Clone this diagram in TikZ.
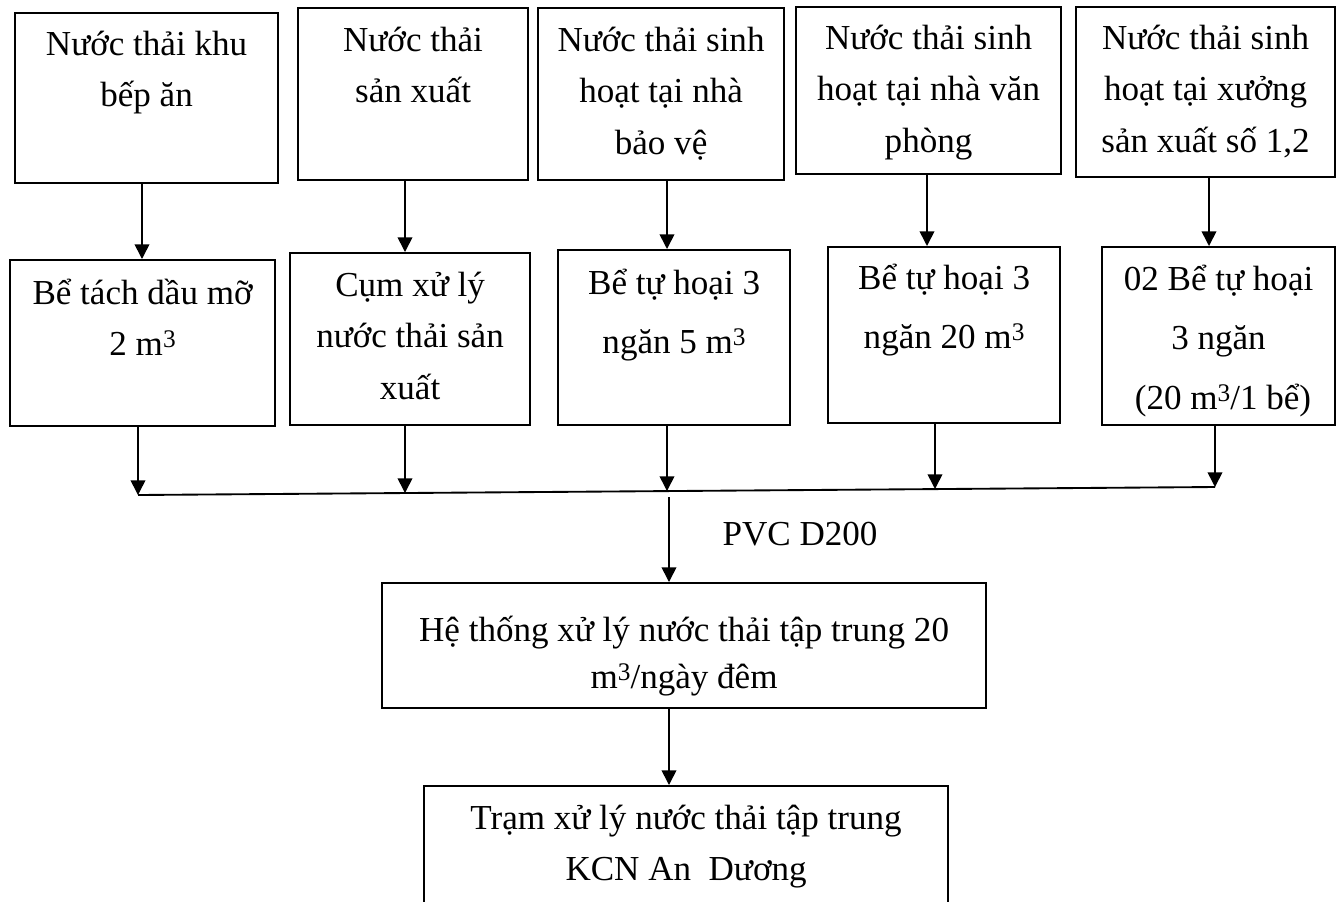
\documentclass[tikz,border=0pt]{standalone}
\usepackage{fontspec}
\setmainfont{Liberation Serif}
\usetikzlibrary{arrows.meta}

% cubic-metre exponent, set like a word-processor superscript
\newcommand\cub{\raisebox{0.22em}{\fontsize{19pt}{19pt}\selectfont 3}}

\begin{document}
\begin{tikzpicture}[x=0.75pt,y=-0.75pt,
  box/.style={draw, line width=1.6pt, inner sep=0pt, align=flush center,
    anchor=north west, font=\fontsize{26.3pt}{38.6pt}\selectfont},
  widebox/.style={box, font=\fontsize{26.3pt}{44.6pt}\selectfont},
  tightbox/.style={box, font=\fontsize{26.3pt}{35.3pt}\selectfont},
  arr/.style={line width=1.2pt, -{Triangle[length=11pt,width=11pt]}},
  pipe/.style={line width=1.4pt}]
\useasboundingbox (0,0) rectangle (1336,901);
\clip (0,0) rectangle (1336,901);

% sources
\node[box, text width=197.25pt, text height=31.5pt, text depth=96pt] (t1) at (14,12)
  {Nước thải khu\\bếp ăn};
\node[box, text width=172.5pt, text height=32.25pt, text depth=96.75pt] (t2) at (297,7)
  {Nước thải\\sản xuất};
\node[box, text width=184.5pt, text height=32.25pt, text depth=96.75pt] (t3) at (537,7)
  {Nước thải sinh\\hoạt tại nhà\\bảo vệ};
\node[box, text width=198.75pt, text height=31.5pt, text depth=93.75pt] (t4) at (795,6)
  {Nước thải sinh\\hoạt tại nhà văn\\phòng};
\node[box, text width=194.25pt, text height=31.5pt, text depth=96pt] (t5) at (1075,6)
  {Nước thải sinh\\hoạt tại xưởng\\sản xuất số 1,2};

% pre-treatment units
\node[box, text width=198.75pt, text height=33pt, text depth=91.5pt] (l1) at (9,259)
  {Bể tách dầu mỡ\\2 m\cub};
\node[box, text width=180pt, text height=32.25pt, text depth=96.75pt] (l2) at (289,252)
  {Cụm xử lý\\nước thải sản\\xuất};
\node[widebox, text width=174pt, text height=33pt, text depth=98.25pt] (l3) at (557,249)
  {Bể tự hoại 3\\ngăn 5 m\cub};
\node[widebox, text width=174pt, text height=31.5pt, text depth=100.5pt] (l4) at (827,246)
  {Bể tự hoại 3\\ngăn 20 m\cub};
\node[widebox, text width=174.75pt, text height=32.25pt, text depth=101.25pt] (l5) at (1101,246)
  {02 Bể tự hoại\\3 ngăn\\\ (20 m\cub/1 bể)};

% central treatment and discharge
\node[tightbox, text width=453pt, text height=43.5pt, text depth=50.25pt] (h) at (381,582)
  {Hệ thống xử lý nước thải tập trung 20\\m\cub/ngày đêm};
\node[box, text width=393pt, text height=32.25pt, text depth=76.5pt] (tt) at (423,785)
  {Trạm xử lý nước thải tập trung\\KCN An~~Dương};

% drop columns
\coordinate (c1) at (142,0);
\coordinate (c2) at (405,0);
\coordinate (c3) at (667,0);
\coordinate (c4) at (927,0);
\coordinate (c5) at (1209,0);
\draw[arr] (t1.south -| c1) -- (l1.north -| c1);
\draw[arr] (t2.south -| c2) -- (l2.north -| c2);
\draw[arr] (t3.south -| c3) -- (l3.north -| c3);
\draw[arr] (t4.south -| c4) -- (l4.north -| c4);
\draw[arr] (t5.south -| c5) -- (l5.north -| c5);

% collector pipe
\coordinate (j1) at (138,495);
\coordinate (j2) at (405,493);
\coordinate (j3) at (667,491);
\coordinate (j4) at (935,489);
\coordinate (j5) at (1215,487);
\draw[arr] (l1.south -| j1) -- (j1);
\draw[arr] (l2.south -| j2) -- (j2);
\draw[arr] (l3.south -| j3) -- (j3);
\draw[arr] (l4.south -| j4) -- (j4);
\draw[arr] (l5.south -| j5) -- (j5);
\draw[pipe] (j1) -- (j5);

% main line
\coordinate (d) at (669,497);
\draw[arr] (d) -- (d |- h.north);
\node[anchor=base, inner sep=0pt, font=\fontsize{26.3pt}{38.6pt}\selectfont] (pvc) at (800,545) {PVC D200};
\draw[arr] (h.south -| d) -- (d |- tt.north);
\end{tikzpicture}
\end{document}
